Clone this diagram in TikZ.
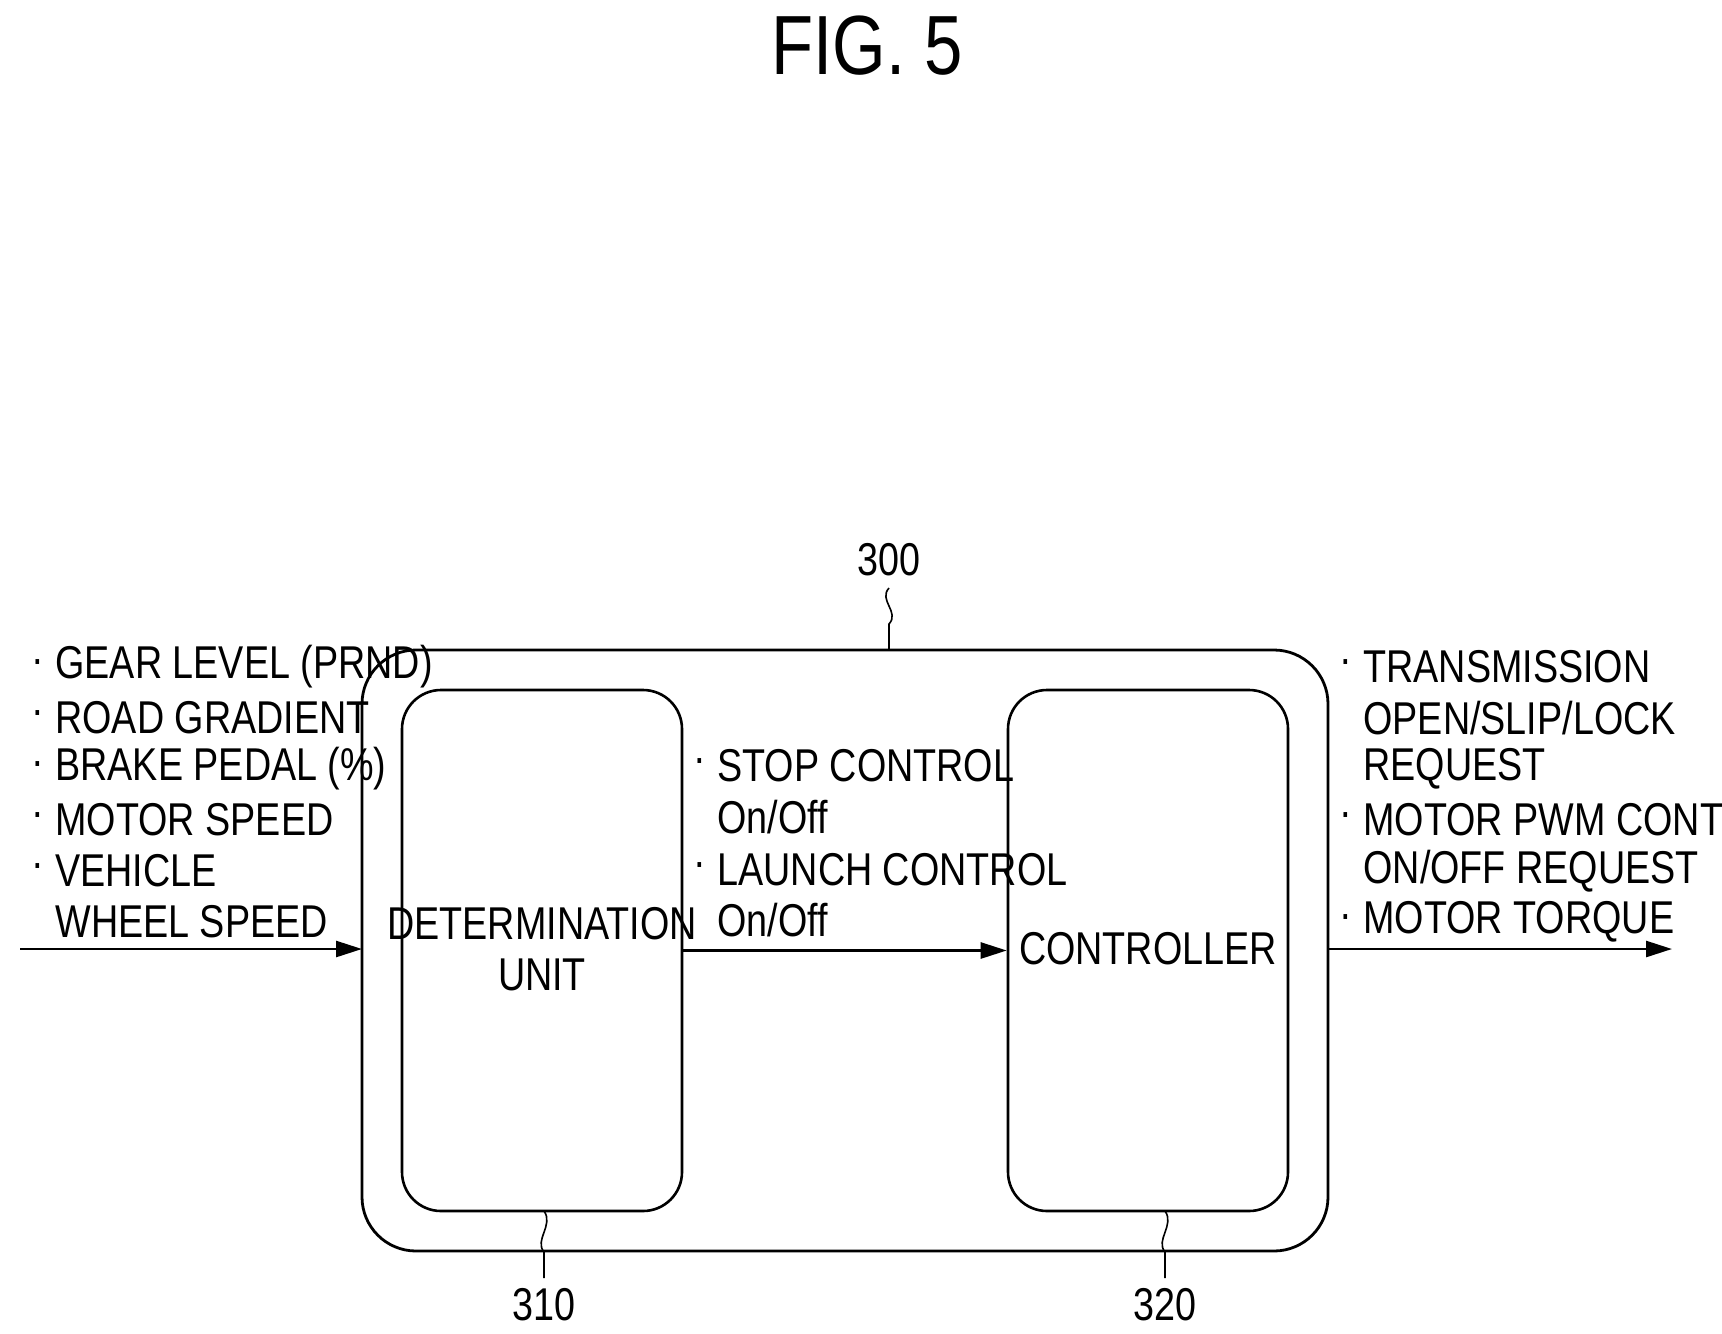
\documentclass[tikz,border=0pt]{standalone}
\usepackage{fontspec}
\setmainfont[FakeStretch=0.82]{Liberation Sans}
\usetikzlibrary{arrows.meta}
\begin{document}
\begin{tikzpicture}[x=0.5pt,y=-0.5pt,
  every node/.style={font=\fontsize{23}{25.5}\selectfont, inner sep=0pt},
  ln/.style={anchor=west},
  blk/.style={draw, line width=1.3pt, rounded corners=19.5pt},
  arr/.style={line width=1.3pt, -{Triangle[length=13pt,width=8pt]}}]
\useasboundingbox (0,0) rectangle (1722,1333);
\node (title) at (867,46) {\fontsize{42}{46}\selectfont FIG. 5};
\draw[line width=1.4pt, rounded corners=27pt] (362,650) rectangle (1328,1251);
\coordinate (outL) at (362,949);
\coordinate (outR) at (1328,949);
\node[blk, minimum width=140pt, minimum height=260.5pt] (det) at (542,950.5) {};
\node[blk, minimum width=140pt, minimum height=260.5pt] (ctl) at (1148,950.5) {};
\node[align=center] (dett) at (542,949) {DETERMINATION\\UNIT};
\node (ctlt) at (1148,949) {CONTROLLER};
\coordinate (in) at (20,949);
\coordinate (out) at (1672,949);
\draw[arr] (in) -- (outL);
\draw[arr] (det.east) -- (ctl.west);
\draw[arr] (outR) -- (out);
\foreach \t/\y/\b in {{GEAR LEVEL (PRND)}/667/1,{ROAD GRADIENT}/718/1,{BRAKE PEDAL (\%)}/769/1,{MOTOR SPEED}/820/1,{VEHICLE}/871/1,{WHEEL SPEED}/922/0}{
  \node[ln] at (55,\y) {\t};
  \ifnum\b=1 \node at (38,\y) {·};\fi }
\foreach \t/\y/\b in {{STOP CONTROL}/766/1,{On/Off}/817/0,{LAUNCH CONTROL}/870/1,{On/Off}/920/0}{
  \node[ln] at (717,\y) {\t};
  \ifnum\b=1 \node at (700,\y) {·};\fi }
\foreach \t/\y/\b in {{TRANSMISSION}/667/1,{OPEN/SLIP/LOCK}/718/0,{REQUEST}/769/0,{MOTOR PWM CONTROL}/820/1,{ON/OFF REQUEST}/871/0,{MOTOR TORQUE}/922/1}{
  \node[ln] at (1363,\y) {\t};
  \ifnum\b=1 \node at (1346,\y) {·};\fi }
\node (l300) at (889,560) {300};
\node (l310) at (544,1305) {310};
\node (l320) at (1165,1305) {320};
\draw[line width=0.8pt] (889,588) .. controls (878,600) and (900,612) .. (889,624) -- (889,650);
\draw[line width=0.8pt] (544,1211) .. controls (554,1225) and (534,1240) .. (544,1252) -- (544,1278);
\draw[line width=0.8pt] (1165,1211) .. controls (1175,1225) and (1155,1240) .. (1165,1252) -- (1165,1278);
\end{tikzpicture}
\end{document}
